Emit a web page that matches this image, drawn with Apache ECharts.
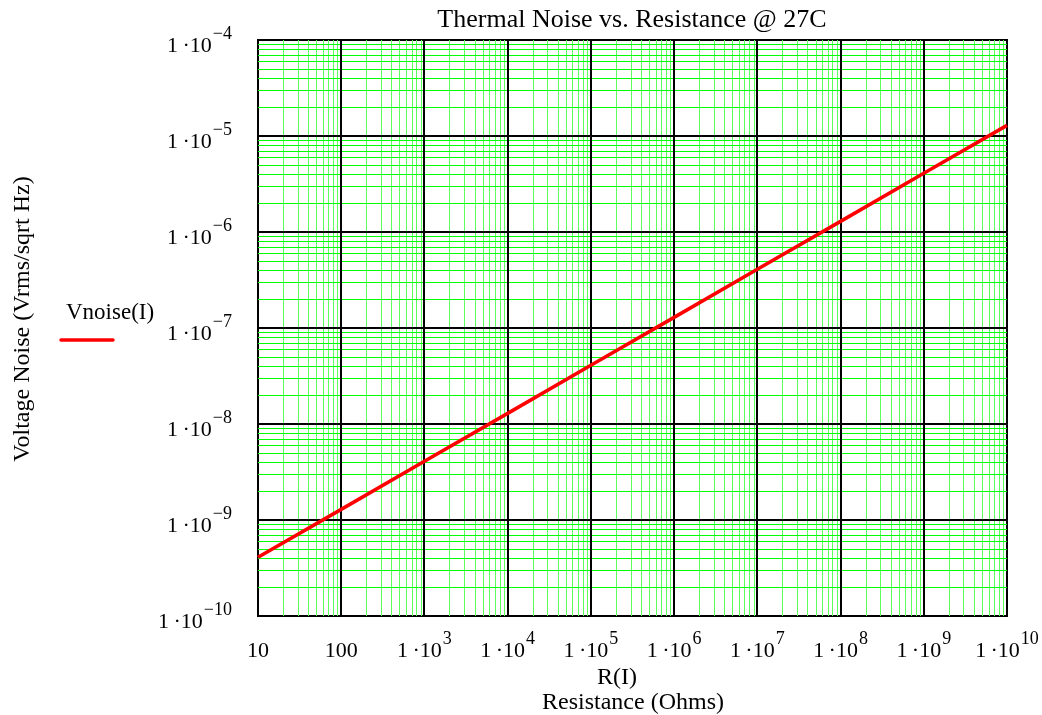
<!DOCTYPE html>
<html>
<head>
<meta charset="utf-8">
<style>
  html, body { margin: 0; padding: 0; background: #fff; }
  #chart { width: 1042px; height: 715px; }
</style>
<script src="https://cdn.jsdelivr.net/npm/echarts@6/dist/echarts.min.js"></script>
</head>
<body>
<div id="chart"></div>
<script>
// Thermal noise density of a resistor at 27 C
const resistance = [1e1, 1e2, 1e3, 1e4, 1e5, 1e6, 1e7, 1e8, 1e9, 1e10];
const vnoise = [4.1e-10, 1.29e-9, 4.1e-9, 1.29e-8, 4.1e-8, 1.29e-7, 4.1e-7, 1.29e-6, 4.1e-6, 1.29e-5];

// Decade exponents for the log grid, and the in-between multipliers
const xDecades = [1, 2, 3, 4, 5, 6, 7, 8, 9, 10];
const yDecades = [-10, -9, -8, -7, -6, -5, -4];
const minorSteps = [2, 3, 4, 5, 6, 7, 8, 9];

const FONT = 'Liberation Serif';
const MINUS = '\u2212';

const X_MIN = Math.pow(10, xDecades[0]);
const X_MAX = Math.pow(10, xDecades[xDecades.length - 1]);
const Y_MIN = Math.pow(10, yDecades[0]);
const Y_MAX = Math.pow(10, yDecades[yDecades.length - 1]);

function supLabel(exp) {
  const e = exp < 0 ? MINUS + Math.abs(exp) : String(exp);
  return '{b|1\u2009·10}{s|' + e + '}';
}
function xLabel(v) {
  const exp = Math.round(Math.log10(v));
  if (exp === 1) return '{b|10}';
  if (exp === 2) return '{b|100}';
  return supLabel(exp);
}
function yLabel(v) {
  return supLabel(Math.round(Math.log10(v)));
}

const labelRich = {
  b: { fontFamily: FONT, fontSize: 22, color: '#000', lineHeight: 32, verticalAlign: 'bottom' },
  s: { fontFamily: FONT, fontSize: 18, color: '#000', lineHeight: 18, verticalAlign: 'top', padding: [0, 0, 0, 1] }
};

// Grid line records: [x, y, orientation] — 0 = vertical at x, 1 = horizontal at y
const minorGrid = [];
xDecades.slice(0, -1).forEach(d => minorSteps.forEach(m => minorGrid.push([m * Math.pow(10, d), Y_MIN, 0])));
yDecades.slice(0, -1).forEach(d => minorSteps.forEach(m => minorGrid.push([X_MIN, m * Math.pow(10, d), 1])));
const majorGrid = [];
xDecades.slice(1, -1).forEach(d => majorGrid.push([Math.pow(10, d), Y_MIN, 0]));
yDecades.slice(1, -1).forEach(d => majorGrid.push([X_MIN, Math.pow(10, d), 1]));

// Draws one full-span grid line, snapped to the pixel grid
function gridLineRenderer(color, vColor, width) {
  return function (params, api) {
    const horizontal = api.value(2) === 1;
    const off = width % 2 === 1 ? 0.5 : 0;
    if (horizontal) {
      const a = api.coord([X_MIN, api.value(1)]);
      const b = api.coord([X_MAX, api.value(1)]);
      const y = Math.round(a[1]) + off;
      return { type: 'line', shape: { x1: a[0], y1: y, x2: b[0], y2: y },
               style: { stroke: color, lineWidth: width } };
    }
    const a = api.coord([api.value(0), Y_MIN]);
    const b = api.coord([api.value(0), Y_MAX]);
    const x = Math.round(a[0]) + off;
    return { type: 'line', shape: { x1: x, y1: a[1], x2: x, y2: b[1] },
             style: { stroke: vColor, lineWidth: width } };
  };
}

const seriesData = resistance.map((r, i) => [r, vnoise[i]]);

const chart = echarts.init(document.getElementById('chart'), null, { renderer: 'canvas' });
chart.setOption({
  animation: false,
  backgroundColor: '#fff',
  title: {
    text: 'Thermal Noise vs. Resistance @ 27C',
    left: 627, top: 2, textAlign: 'center',
    textStyle: { fontFamily: FONT, fontSize: 26, fontWeight: 'normal', color: '#000' }
  },
  grid: {
    left: 258, right: 35, top: 40, bottom: 99,
    outerBoundsMode: 'none', containLabel: false,
    show: true, borderColor: '#000', borderWidth: 2, backgroundColor: 'transparent'
  },
  xAxis: {
    type: 'log', logBase: 10, min: X_MIN, max: X_MAX, splitNumber: 9,
    axisLine: { show: false }, axisTick: { show: false },
    splitLine: { show: false }, minorTick: { show: false }, minorSplitLine: { show: false },
    axisLabel: { margin: 14, formatter: xLabel, rich: labelRich, hideOverlap: false }
  },
  yAxis: {
    type: 'log', logBase: 10, min: Y_MIN, max: Y_MAX, splitNumber: 6,
    axisLine: { show: false }, axisTick: { show: false },
    splitLine: { show: false }, minorTick: { show: false }, minorSplitLine: { show: false },
    axisLabel: { margin: 26, padding: [2, 0, 0, 0], formatter: yLabel, rich: labelRich, hideOverlap: false }
  },
  graphic: [
    {
      type: 'text', x: 23, y: 319, rotation: Math.PI / 2,
      style: { text: 'Voltage Noise (Vrms/sqrt Hz)', fontFamily: FONT, fontSize: 24, fill: '#000',
               textAlign: 'center', textVerticalAlign: 'middle' }
    },
    {
      type: 'text', x: 617, y: 678,
      style: { text: 'R(I)', fontFamily: FONT, fontSize: 24, fill: '#000',
               textAlign: 'center', textVerticalAlign: 'middle' }
    },
    {
      type: 'text', x: 633, y: 703,
      style: { text: 'Resistance (Ohms)', fontFamily: FONT, fontSize: 24, fill: '#000',
               textAlign: 'center', textVerticalAlign: 'middle' }
    },
    {
      type: 'text', x: 66, y: 313,
      style: { text: 'Vnoise(I)', fontFamily: FONT, fontSize: 23, fill: '#000', textVerticalAlign: 'middle' }
    },
    {
      type: 'line', shape: { x1: 61, y1: 340, x2: 113, y2: 340 },
      style: { stroke: '#ff0000', lineWidth: 3.5, lineCap: 'round' }
    }
  ],
  series: [
    {
      name: 'minor', type: 'custom', data: minorGrid, silent: true, z: 1, clip: false,
      encode: { x: 0, y: 1 },
      renderItem: gridLineRenderer('#00ff00', '#5cff5c', 1)
    },
    {
      name: 'major', type: 'custom', data: majorGrid, silent: true, z: 2, clip: false,
      encode: { x: 0, y: 1 },
      renderItem: gridLineRenderer('#000000', '#000000', 2)
    },
    {
      name: 'Vnoise(I)', type: 'line', data: seriesData, z: 5,
      showSymbol: false, symbol: 'none', smooth: false,
      lineStyle: { color: '#ff0000', width: 3.5 },
      clip: true
    }
  ]
});
</script>
</body>
</html>
